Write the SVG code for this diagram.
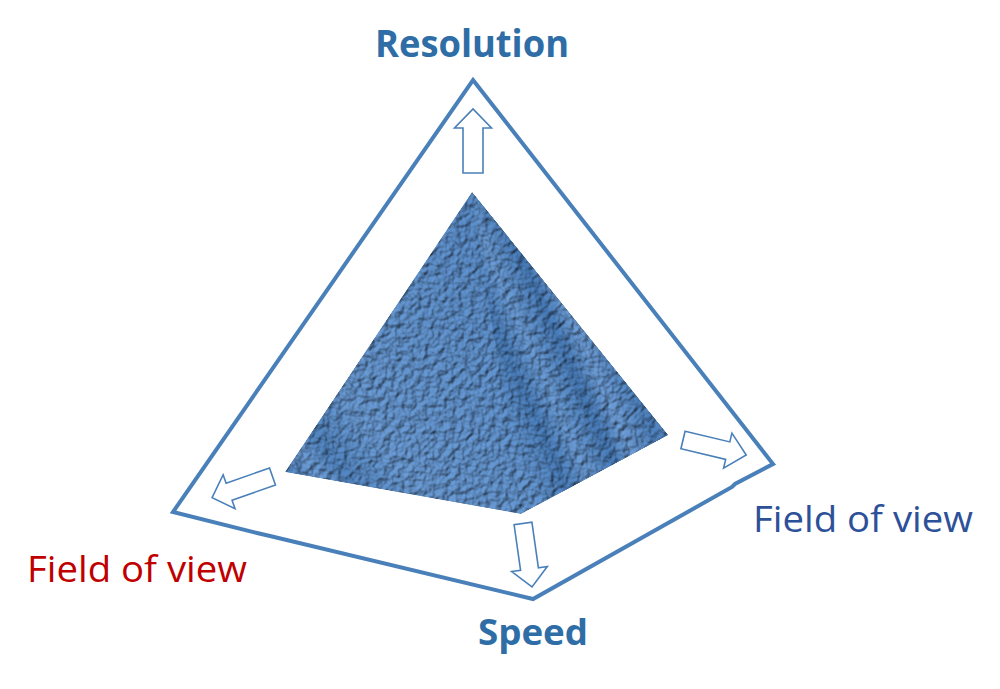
<svg xmlns="http://www.w3.org/2000/svg" width="1000" height="689" viewBox="0 0 1000 689">
<style>
.frame{fill:none;stroke:#4a80b9;stroke-width:4;stroke-linejoin:miter}
.arrow{fill:#fff;stroke:#4a80b9;stroke-width:1.6}
.lbl{font-family:"Open Sans","Liberation Sans",sans-serif}
</style>
<defs>
<filter id="tex" x="0" y="0" width="1" height="1" color-interpolation-filters="sRGB">
<feTurbulence type="fractalNoise" baseFrequency="0.15" numOctaves="2" seed="7" result="n"/>
<feDiffuseLighting in="n" surfaceScale="2.4" diffuseConstant="1" lighting-color="#ffffff" result="l">
<feDistantLight azimuth="225" elevation="60"/>
</feDiffuseLighting>
<feComposite in="l" in2="SourceGraphic" operator="arithmetic" k1="0.95" k2="0.1" k3="0.08" k4="0" result="m"/>
<feComposite in="m" in2="SourceAlpha" operator="in"/>
</filter>
<linearGradient id="gFront" gradientUnits="userSpaceOnUse" x1="290" y1="470" x2="520" y2="300">
<stop offset="0" stop-color="#3a6da8"/>
<stop offset="0.07" stop-color="#5281ba"/>
<stop offset="0.14" stop-color="#386ba6"/>
<stop offset="0.3" stop-color="#4f7fb8"/>
<stop offset="0.6" stop-color="#4a7bb5"/>
<stop offset="1" stop-color="#4274b0"/>
</linearGradient>
<linearGradient id="gRight" gradientUnits="userSpaceOnUse" x1="480" y1="380" x2="660" y2="300">
<stop offset="0" stop-color="#4274b0" stop-opacity="0"/>
<stop offset="0.18" stop-color="#2f629e"/>
<stop offset="0.3" stop-color="#5080b9"/>
<stop offset="0.45" stop-color="#2d609c"/>
<stop offset="0.55" stop-color="#5382bb"/>
<stop offset="0.7" stop-color="#3366a2"/>
<stop offset="0.85" stop-color="#5584bd"/>
<stop offset="1" stop-color="#4576b2"/>
</linearGradient>
</defs>

<g id="frame">
<path class="frame" d="M473,80 L773,464 L735,484 L732,487 L533,599 L270,536 L257,533 L173,512 Z"/>
</g>

<g id="pyramid" filter="url(#tex)">
<polygon points="472,192 285,472 521,514 668,435" fill="url(#gFront)"/>
<polygon points="472,192 668,435 521,514" fill="url(#gRight)"/>
</g>

<g id="connectors">
<path class="arrow" transform="translate(473,173) rotate(-90)" d="M0,-10 L45,-10 L45,-18.5 L64,0 L45,18.5 L45,10 L0,10 Z"/>
<path class="arrow" transform="translate(272.5,476.5) rotate(160.7)" d="M0,-9 L46,-9 L46,-18 L64,0 L46,18 L46,9 L0,9 Z"/>
<path class="arrow" transform="translate(683,440) rotate(13.4)" d="M0,-9 L46,-9 L46,-18 L65,0 L46,18 L46,9 L0,9 Z"/>
<path class="arrow" transform="translate(523,523.5) rotate(81.9)" d="M0,-9 L46,-9 L46,-18 L64,0 L46,18 L46,9 L0,9 Z"/>
</g>

<g id="label-resolution">
<text class="lbl" x="375" y="57" font-size="38" font-weight="700" fill="#2e6da6" textLength="194" lengthAdjust="spacingAndGlyphs">Resolution</text>
</g>
<g id="label-speed">
<text class="lbl" x="478" y="645" font-size="36" font-weight="700" fill="#2e6da6" textLength="110" lengthAdjust="spacingAndGlyphs">Speed</text>
</g>
<g id="label-fov-right">
<text class="lbl" x="753" y="532" font-size="36" font-weight="500" fill="#2d5199" textLength="220" lengthAdjust="spacingAndGlyphs">Field of view</text>
</g>
<g id="label-fov-left">
<text class="lbl" x="27" y="582" font-size="36" font-weight="500" fill="#c00000" textLength="220" lengthAdjust="spacingAndGlyphs">Field of view</text>
</g>
</svg>
